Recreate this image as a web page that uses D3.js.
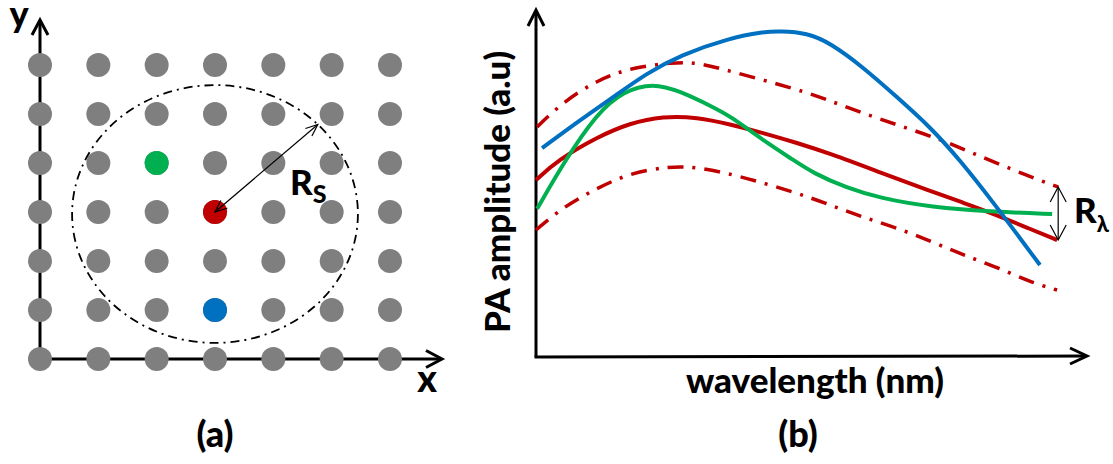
<!DOCTYPE html>
<html><head><meta charset="utf-8">
<script src="https://cdn.jsdelivr.net/npm/d3@7"></script>
<style>
body{margin:0;background:#fff}
svg{display:block}
text{font-family:Lato,'Noto Sans','DejaVu Sans',sans-serif;font-weight:900;fill:#000}
</style>
</head><body><svg id="c" width="1113" height="464"></svg>
<script>
// ---------- Panel (a): sensor grid ----------
const gridCols = [0, 1, 2, 3, 4, 5, 6];
const gridRows = [0, 1, 2, 3, 4, 5, 6];
const markedCols = [2, 3, 3];
const markedRows = [4, 3, 1];
const markedNames = ["green", "red", "blue"];
const neighbourhoodRadius = [2.45, 2.63]; // in grid units (cols, rows)

// ---------- Panel (b): PA amplitude spectra ----------
const blueX = [1.1, 8.0, 14.0, 20.1, 26.1, 35.1, 41.1, 44.2, 49.1, 53.3, 59.2, 65.4, 71.4, 76.8, 83.5, 91.3];
const blueY = [60.2, 68.3, 74.9, 81.8, 87.0, 91.9, 93.7, 93.9, 93.4, 90.5, 83.6, 74.9, 66.3, 56.8, 43.2, 26.5];
const upperX = [0.2, 4.9, 11.1, 17.0, 24.8, 29.2, 35.1, 47.3, 53.3, 59.2, 65.4, 72.6, 78.6, 89.5, 94.6];
const upperY = [66.3, 73.5, 79.8, 83.3, 84.9, 84.9, 82.4, 77.2, 73.8, 70.3, 66.9, 63.1, 59.1, 51.9, 49.0];
const lowerX = [0.0, 4.9, 11.1, 17.0, 24.3, 29.2, 36.4, 47.3, 53.3, 59.2, 65.4, 71.9, 77.4, 83.5, 89.5, 94.4];
const lowerY = [36.6, 43.2, 48.7, 53.0, 55.0, 54.7, 52.4, 47.3, 43.8, 40.3, 37.2, 33.1, 29.4, 25.9, 21.6, 19.3];
const redX = [0.0, 4.0, 11.1, 17.0, 23.0, 29.2, 35.1, 41.1, 47.3, 53.3, 62.3, 71.4, 77.4, 83.5, 89.5, 94.4];
const redY = [51.0, 56.8, 63.4, 67.4, 69.4, 69.1, 67.1, 64.6, 61.7, 58.6, 53.2, 47.8, 44.5, 40.9, 36.9, 33.7];
const greenX = [0.2, 5.3, 11.1, 15.8, 21.2, 26.1, 32.1, 35.1, 41.1, 46.6, 50.2, 56.3, 62.3, 71.4, 83.5, 93.5];
const greenY = [42.7, 56.8, 70.3, 76.6, 79.0, 76.6, 72.0, 69.5, 62.5, 56.8, 53.0, 48.7, 45.8, 43.2, 41.8, 41.2];

const colors = {gray: "#7f7f7f", green: "#00b050", red: "#c00000", blue: "#0070c0"};

const svg = d3.select("#c");

function chevron(g, tx, ty, ang, len, half, w) {
  const c = Math.cos(ang), s = Math.sin(ang);
  const bx = tx - c * len, by = ty - s * len;
  const p1 = [bx - s * half, by + c * half], p2 = [bx + s * half, by - c * half];
  g.append("path")
    .attr("d", `M${p1[0]},${p1[1]}L${tx},${ty}L${p2[0]},${p2[1]}`)
    .attr("fill", "none").attr("stroke", "#000").attr("stroke-width", w)
    .attr("stroke-linejoin", "miter").attr("stroke-linecap", "butt");
}

// ===== Panel (a) =====
const xa = d3.scaleLinear().domain([0, 6]).range([40, 390]);
const ya = d3.scaleLinear().domain([0, 6]).range([359, 65]);
const ga = svg.append("g");

ga.append("line").attr("x1", xa(0)).attr("y1", ya(0)).attr("x2", xa(0)).attr("y2", 21)
  .attr("stroke", "#000").attr("stroke-width", 3);
ga.append("line").attr("x1", xa(0)).attr("y1", ya(0)).attr("x2", 441).attr("y2", ya(0))
  .attr("stroke", "#000").attr("stroke-width", 3);
chevron(ga, xa(0), 20, -Math.PI / 2, 15, 8, 3);
chevron(ga, 442, ya(0), 0, 16, 8.5, 3);

const cells = [];
gridRows.forEach(r => gridCols.forEach(c => cells.push({c, r})));
ga.selectAll("circle.dot").data(cells).join("circle").attr("class", "dot")
  .attr("cx", d => xa(d.c)).attr("cy", d => ya(d.r)).attr("r", 12)
  .attr("fill", colors.gray);
ga.selectAll("circle.mark").data(markedNames).join("circle").attr("class", "mark")
  .attr("cx", (d, i) => xa(markedCols[i])).attr("cy", (d, i) => ya(markedRows[i])).attr("r", 12)
  .attr("fill", d => colors[d]);

const cx0 = xa(markedCols[1]), cy0 = ya(markedRows[1]);
const rx = xa(neighbourhoodRadius[0]) - xa(0), ry = ya(0) - ya(neighbourhoodRadius[1]);
ga.append("ellipse").attr("cx", cx0).attr("cy", cy0 + 2).attr("rx", rx).attr("ry", ry)
  .attr("fill", "none").attr("stroke", "#000").attr("stroke-width", 1.8)
  .attr("stroke-dasharray", "9,5,2,5");

const t = 44 * Math.PI / 180;
const ex = cx0 + rx * Math.cos(t), ey = cy0 + 2 - ry * Math.sin(t);
ga.append("line").attr("x1", ex).attr("y1", ey).attr("x2", cx0).attr("y2", cy0)
  .attr("stroke", "#000").attr("stroke-width", 1.2);
const angA = Math.atan2(ey - cy0, ex - cx0);
chevron(ga, ex, ey, angA, 12, 5, 1.2);
chevron(ga, cx0, cy0, angA + Math.PI, 12, 5, 1.2);

const rs = ga.append("text").attr("x", 290).attr("y", 195).style("font-size", "35px");
rs.append("tspan").text("R");
rs.append("tspan").attr("dy", 8).style("font-size", "25px").text("S");

ga.append("text").attr("x", 19).attr("y", 27).attr("text-anchor", "middle").style("font-size", "36px").text("y");
ga.append("text").attr("x", 427).attr("y", 392).attr("text-anchor", "middle").style("font-size", "37px").text("x");
ga.append("text").attr("x", 215).attr("y", 447).attr("text-anchor", "middle").style("font-size", "36px").text("(a)");

// ===== Panel (b) =====
const xb = d3.scaleLinear().domain([0, 100]).range([536, 1088]);
const yb = d3.scaleLinear().domain([0, 100]).range([357, 10]);
const gb = svg.append("g");

gb.append("line").attr("x1", xb(0)).attr("y1", yb(0)).attr("x2", xb(0)).attr("y2", 11)
  .attr("stroke", "#000").attr("stroke-width", 3);
gb.append("line").attr("x1", xb(0) - 1.5).attr("y1", yb(0)).attr("x2", 1086).attr("y2", yb(0) - 1)
  .attr("stroke", "#000").attr("stroke-width", 3);
chevron(gb, xb(0), 10, -Math.PI / 2, 16, 8, 3);
chevron(gb, 1087, yb(0) - 1, 0, 17, 8, 3);

const line = d3.line().x(d => xb(d[0])).y(d => yb(d[1])).curve(d3.curveBasis);
const zip = (xs, ys) => xs.map((x, i) => [x, ys[i]]);

const series = [
  {xs: upperX, ys: upperY, color: colors.red, w: 3.5, dash: "16,9,3,9"},
  {xs: lowerX, ys: lowerY, color: colors.red, w: 3.5, dash: "16,9,3,9"},
  {xs: redX, ys: redY, color: colors.red, w: 4},
  {xs: greenX, ys: greenY, color: colors.green, w: 4},
  {xs: blueX, ys: blueY, color: colors.blue, w: 4}
];
gb.selectAll("path.curve").data(series).join("path").attr("class", "curve")
  .attr("d", d => line(zip(d.xs, d.ys)))
  .attr("fill", "none").attr("stroke", d => d.color).attr("stroke-width", d => d.w)
  .attr("stroke-dasharray", d => d.dash || null);

const ax = xb(upperX[upperX.length - 1]);
const ay1 = yb(upperY[upperY.length - 1]), ay2 = yb(redY[redY.length - 1]);
gb.append("line").attr("x1", ax).attr("y1", ay1).attr("x2", ax).attr("y2", ay2)
  .attr("stroke", "#000").attr("stroke-width", 1.2);
chevron(gb, ax, ay1, -Math.PI / 2, 15, 8, 1.2);
chevron(gb, ax, ay2, Math.PI / 2, 15, 8, 1.2);

const rl = gb.append("text").attr("x", 1074).attr("y", 223).style("font-size", "35px");
rl.append("tspan").text("R");
rl.append("tspan").attr("dy", 9).style("font-size", "22px").text("λ");

gb.append("text").attr("x", 815).attr("y", 393).attr("text-anchor", "middle").style("font-size", "35px").text("wavelength (nm)");
gb.append("text").attr("transform", "translate(510,192) rotate(-90)").attr("text-anchor", "middle")
  .style("font-size", "35px").text("PA amplitude (a.u)");
gb.append("text").attr("x", 798).attr("y", 447).attr("text-anchor", "middle").style("font-size", "36px").text("(b)");
</script>
</body></html>
